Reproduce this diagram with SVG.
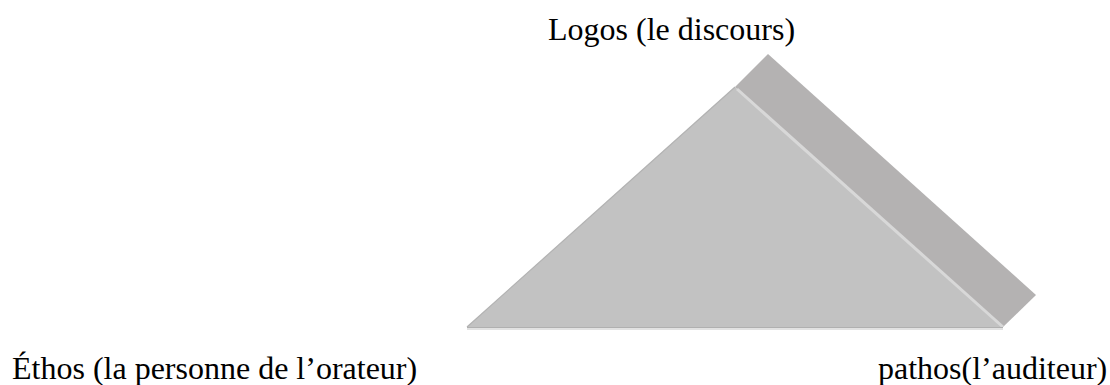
<svg xmlns="http://www.w3.org/2000/svg" width="1110" height="385" viewBox="0 0 1110 385">
  <style>
    .lbl { font-family: "Liberation Serif", "Times New Roman", serif; font-size: 32px; fill: #000; }
    .front { fill: #c2c2c2; }
    .side { fill: #b4b2b2; }
  </style>
  <rect width="1110" height="385" fill="#fff"/>
  <g id="triangle">
    <polygon class="side" points="735,87 768,54 1036,295 1003,327"/>
    <polygon class="front" points="467,327 735,87 1003,327"/>
    <line x1="467" y1="327" x2="735" y2="87" stroke="#b2b2b2" stroke-width="1.2"/>
    <line x1="737" y1="89" x2="1003" y2="327" stroke="#d8d8d8" stroke-width="3"/>
    <line x1="467" y1="327.5" x2="1003" y2="327.5" stroke="#b0b0b0" stroke-width="1"/>
    <line x1="467" y1="329" x2="1003" y2="329" stroke="#e2e2e2" stroke-width="2"/>
  </g>
  <g id="logos">
    <text class="lbl" x="548" y="40">Logos (le discours)</text>
  </g>
  <g id="ethos">
    <text class="lbl" x="12" y="379">Éthos (la personne de l’orateur)</text>
  </g>
  <g id="pathos">
    <text class="lbl" x="878" y="379">pathos(l’auditeur)</text>
  </g>
  <g id="connectors"></g>
</svg>
